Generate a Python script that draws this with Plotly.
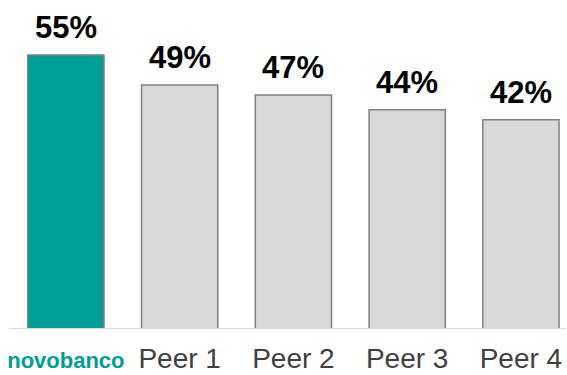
import plotly.graph_objects as go

categories = ["novobanco", "Peer 1", "Peer 2", "Peer 3", "Peer 4"]
values = [55, 49, 47, 44, 42]
labels = ["55%", "49%", "47%", "44%", "42%"]

teal = "#009E94"
gray_fill = "#D9D9D9"
gray_line = "#808080"

colors = [teal] + [gray_fill] * (len(categories) - 1)
ticktext = ["<b><span style='color:%s;font-size:22px'>%s</span></b>" % (teal, categories[0])] + categories[1:]

fig = go.Figure()
fig.add_trace(go.Bar(
    x=list(range(len(categories))),
    y=values,
    marker=dict(color=colors, line=dict(color=gray_line, width=1.5)),
    width=0.67,
    hoverinfo="skip",
))

for i, (v, t) in enumerate(zip(values, labels)):
    fig.add_annotation(x=i, y=v, text="<b>%s</b>" % t, showarrow=False,
                       xref="x", yref="y", yanchor="bottom", yshift=8,
                       font=dict(size=31, color="#000000", family="Liberation Sans, Arial"))

fig.update_layout(
    width=567, height=375,
    margin=dict(l=9, r=0, t=0, b=46, autoexpand=False),
    paper_bgcolor="white", plot_bgcolor="white",
    showlegend=False,
    font=dict(family="Liberation Sans, Arial", color="#404040"),
    xaxis=dict(range=[-0.5, 4.405], tickvals=list(range(len(categories))), ticktext=ticktext,
               showgrid=False, zeroline=False, showline=False, ticks="",
               automargin=False, ticklabelstandoff=10,
               tickfont=dict(size=28, color="#404040")),
    yaxis=dict(range=[0, 66.06], visible=False, showgrid=False, zeroline=False, automargin=False),
    shapes=[dict(type="line", xref="paper", yref="y", x0=0, x1=0.998, y0=0, y1=0,
                 line=dict(color="#D9D9D9", width=2))],
)

fig.write_html("out.html", config={"displayModeBar": False, "staticPlot": True},
               post_script="document.body.style.margin='0';document.body.style.overflow='hidden';")
